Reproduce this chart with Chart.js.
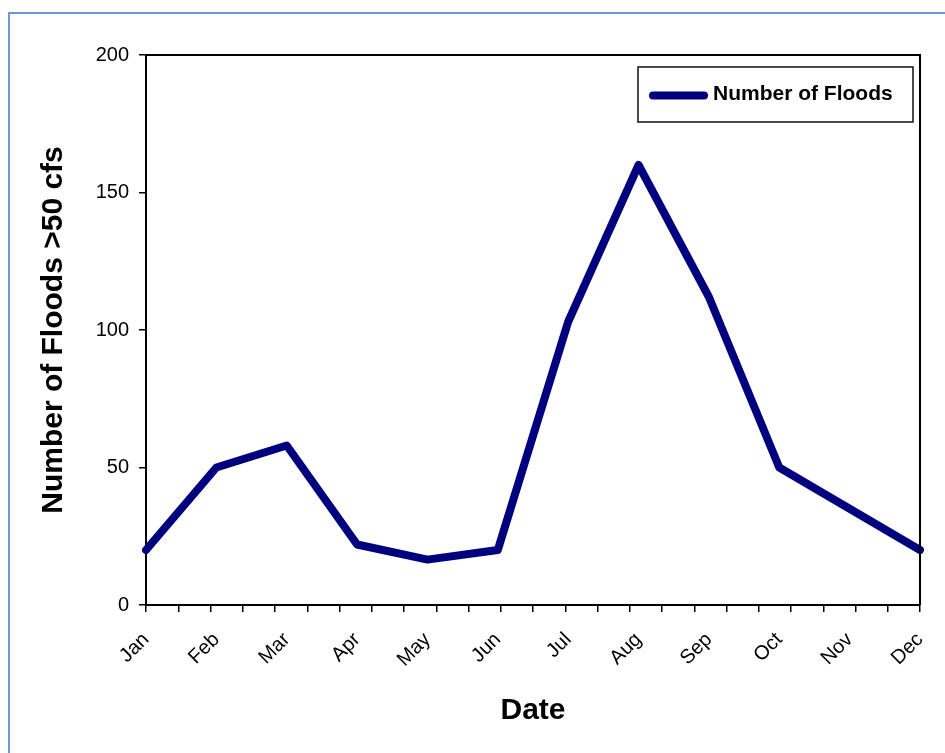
<!DOCTYPE html>
<html>
<head>
<meta charset="utf-8">
<script src="https://cdn.jsdelivr.net/npm/chart.js@4.4.0/dist/chart.umd.min.js"></script>
<style>
  html, body { margin: 0; padding: 0; background: #fff; overflow: hidden; }
  #wrap { position: relative; width: 945px; height: 753px; overflow: hidden; }
  #frame { position: absolute; left: 8px; top: 12px; width: 2000px; height: 2000px;
           border-left: 2px solid #6a98d6; border-top: 2px solid #6a98d6; pointer-events: none; }
  canvas { position: absolute; left: 0; top: 0; }
</style>
</head>
<body>
<div id="wrap">
  <canvas id="c" width="945" height="753"></canvas>
  <div id="frame"></div>
</div>
<script>
const months = ['Jan','Feb','Mar','Apr','May','Jun','Jul','Aug','Sep','Oct','Nov','Dec'];
const floods = [20, 50, 58, 22, 16.5, 20, 103, 160, 112, 50, 35, 20];
const seriesLabel = 'Number of Floods';
const yTitle = 'Number of Floods >50 cfs';
const xTitle = 'Date';
const yTicks = [0, 50, 100, 150, 200];
const minorTickCount = 24;

const FONT = "'Liberation Sans', Arial, sans-serif";

const areaBorder = {
  id: 'areaBorder',
  afterDraw(chart) {
    const {ctx, chartArea: a} = chart;
    ctx.save();
    ctx.strokeStyle = '#000';
    ctx.lineWidth = 2;
    ctx.beginPath();
    ctx.moveTo(a.left, a.top);
    ctx.lineTo(a.right, a.top);
    ctx.lineTo(a.right, a.bottom);
    ctx.stroke();
    ctx.restore();
  }
};

const boxLegend = {
  id: 'boxLegend',
  afterDraw(chart) {
    const {ctx, chartArea: a} = chart;
    const ds = chart.data.datasets[0];
    const w = 275, h = 55;
    const left = a.right - 7 - w, top = a.top + 12;
    ctx.save();
    ctx.fillStyle = '#fff';
    ctx.fillRect(left, top, w, h);
    ctx.strokeStyle = '#111';
    ctx.lineWidth = 1.5;
    ctx.strokeRect(left, top, w, h);
    const cy = top + h / 2;
    ctx.strokeStyle = ds.borderColor;
    ctx.lineWidth = 8;
    ctx.lineCap = 'round';
    ctx.beginPath();
    ctx.moveTo(left + 15, cy + 1);
    ctx.lineTo(left + 66, cy + 1);
    ctx.stroke();
    ctx.fillStyle = '#000';
    ctx.font = "bold 21px " + FONT;
    ctx.textBaseline = 'middle';
    ctx.textAlign = 'left';
    ctx.fillText(ds.label, left + 75, cy);
    ctx.restore();
  }
};

function noSidePad(s) { s.paddingLeft = 0; s.paddingRight = 0; }

new Chart(document.getElementById('c'), {
  type: 'line',
  data: {
    labels: months,
    datasets: [{
      label: seriesLabel,
      data: floods,
      borderColor: '#00007f',
      borderWidth: 8,
      borderJoinStyle: 'round',
      borderCapStyle: 'round',
      pointRadius: 0,
      pointHoverRadius: 0,
      fill: false,
      tension: 0,
      xAxisID: 'x',
      yAxisID: 'y'
    }]
  },
  options: {
    responsive: false,
    animation: false,
    devicePixelRatio: 1,
    layout: { padding: { left: 20, top: 55, right: 25, bottom: 0 } },
    plugins: {
      legend: { display: false },
      tooltip: { enabled: false }
    },
    scales: {
      y: {
        min: 0, max: 200,
        afterBuildTicks(s) { s.ticks = yTicks.map(v => ({ value: v })); },
        afterFit(s) { s.width = 126; s.paddingTop = 0; s.paddingBottom = 0; },
        ticks: { color: '#000', font: { family: FONT, size: 20 }, padding: 10 },
        grid: { drawOnChartArea: false, drawTicks: true, tickLength: 7, color: '#000', lineWidth: 1.5 },
        border: { display: true, color: '#000', width: 2 },
        title: { display: true, text: yTitle, color: '#000',
                 font: { family: FONT, size: 30, weight: 'bold' }, padding: { top: 16, bottom: 0 } }
      },
      x2: {
        type: 'linear',
        position: 'bottom',
        weight: 0,
        min: 0, max: minorTickCount,
        afterFit: noSidePad,
        ticks: { display: false, stepSize: 1 },
        grid: { drawOnChartArea: false, drawTicks: true, tickLength: 7, color: '#000', lineWidth: 1.5 },
        border: { display: true, color: '#000', width: 2 }
      },
      x: {
        type: 'category',
        position: 'bottom',
        weight: 1,
        offset: false,
        afterFit(s) { s.height = 141; noSidePad(s); },
        ticks: { color: '#000', font: { family: FONT, size: 20 }, minRotation: 45, maxRotation: 45, padding: 16, autoSkip: false },
        grid: { display: false, drawTicks: false },
        border: { display: false },
        title: { display: true, text: xTitle, color: '#000',
                 font: { family: FONT, size: 30, weight: 'bold' }, padding: { top: 0, bottom: 24 } }
      }
    }
  },
  plugins: [areaBorder, boxLegend]
});
</script>
</body>
</html>
